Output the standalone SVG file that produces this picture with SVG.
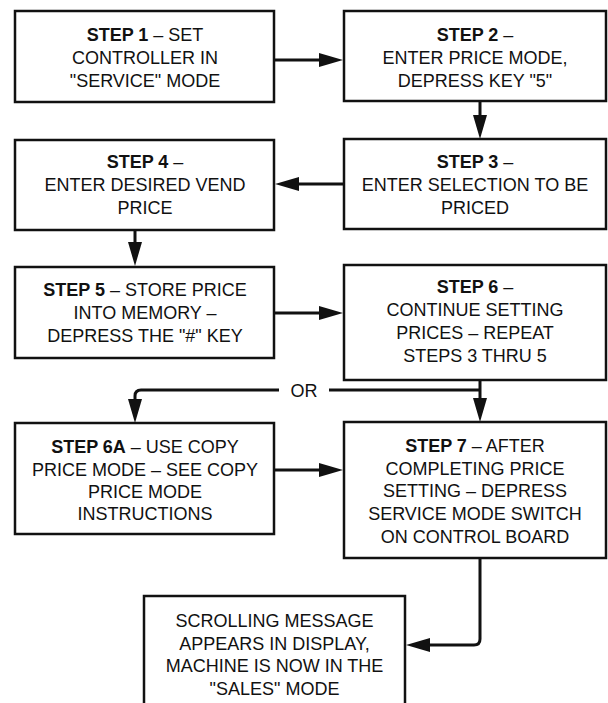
<svg xmlns="http://www.w3.org/2000/svg" width="608" height="703" viewBox="0 0 608 703">
<style>
.box{fill:#fff;stroke:#111;stroke-width:2.5}
.t{font-family:"Liberation Sans",Arial,Helvetica,sans-serif;font-size:18px;fill:#111;text-anchor:middle}
.b{font-weight:bold}
.c{fill:none;stroke:#111;stroke-width:3;stroke-linejoin:round}
</style>
<defs>
<marker id="ah" markerUnits="userSpaceOnUse" markerWidth="26" markerHeight="16" refX="4" refY="7" orient="auto" overflow="visible">
<path d="M0,0 L24,7 L0,14 Z" fill="#111"/>
</marker>
</defs>
<rect width="608" height="703" fill="#fff"/>
<g id="connectors">
<path class="c" d="M274,60 H323" marker-end="url(#ah)"/>
<path class="c" d="M480,101 V119" marker-end="url(#ah)"/>
<path class="c" d="M344,184 H295" marker-end="url(#ah)"/>
<path class="c" d="M135,229 V246" marker-end="url(#ah)"/>
<path class="c" d="M274,313 H323" marker-end="url(#ah)"/>
<path class="c" d="M480,380 V402" marker-end="url(#ah)"/>
<path class="c" d="M279,390 H141 Q135,390 135,396 V403" marker-end="url(#ah)"/>
<path class="c" d="M329,390 H480"/>
<text class="t" x="304" y="396.5">OR</text>
<path class="c" d="M274,470 H323" marker-end="url(#ah)"/>
<path class="c" d="M480,558 V639 Q480,645 474,645 H426" marker-end="url(#ah)"/>
</g>
<g id="step1">
<rect class="box" x="15" y="11" width="259" height="91"/>
<text class="t" x="145" y="40.5"><tspan class="b">STEP 1</tspan> – SET</text>
<text class="t" x="145" y="63.5">CONTROLLER IN</text>
<text class="t" x="145" y="86.5">"SERVICE" MODE</text>
</g>
<g id="step2">
<rect class="box" x="344" y="11" width="262" height="90"/>
<text class="t" x="475" y="40.5"><tspan class="b">STEP 2</tspan> –</text>
<text class="t" x="475" y="63.5">ENTER PRICE MODE,</text>
<text class="t" x="475" y="86.5">DEPRESS KEY "5"</text>
</g>
<g id="step3">
<rect class="box" x="344" y="139" width="262" height="90"/>
<text class="t" x="475" y="168"><tspan class="b">STEP 3</tspan> –</text>
<text class="t" x="475" y="191">ENTER SELECTION TO BE</text>
<text class="t" x="475" y="214">PRICED</text>
</g>
<g id="step4">
<rect class="box" x="15" y="140" width="259" height="90"/>
<text class="t" x="145" y="168"><tspan class="b">STEP 4</tspan> –</text>
<text class="t" x="145" y="191">ENTER DESIRED VEND</text>
<text class="t" x="145" y="214">PRICE</text>
</g>
<g id="step5">
<rect class="box" x="15" y="267" width="259" height="91"/>
<text class="t" x="145" y="296"><tspan class="b">STEP 5</tspan> – STORE PRICE</text>
<text class="t" x="145" y="319">INTO MEMORY –</text>
<text class="t" x="145" y="342">DEPRESS THE "#" KEY</text>
</g>
<g id="step6">
<rect class="box" x="344" y="265" width="262" height="115"/>
<text class="t" x="475" y="293"><tspan class="b">STEP 6</tspan> –</text>
<text class="t" x="475" y="316">CONTINUE SETTING</text>
<text class="t" x="475" y="339">PRICES – REPEAT</text>
<text class="t" x="475" y="362">STEPS 3 THRU 5</text>
</g>
<g id="step6a">
<rect class="box" x="15" y="423" width="259" height="111"/>
<text class="t" x="145" y="453"><tspan class="b">STEP 6A</tspan> – USE COPY</text>
<text class="t" x="145" y="476">PRICE MODE – SEE COPY</text>
<text class="t" x="145" y="498">PRICE MODE</text>
<text class="t" x="145" y="520">INSTRUCTIONS</text>
</g>
<g id="step7">
<rect class="box" x="344" y="422" width="262" height="136"/>
<text class="t" x="475" y="452"><tspan class="b">STEP 7</tspan> – AFTER</text>
<text class="t" x="475" y="475">COMPLETING PRICE</text>
<text class="t" x="475" y="497">SETTING – DEPRESS</text>
<text class="t" x="475" y="520">SERVICE MODE SWITCH</text>
<text class="t" x="475" y="543">ON CONTROL BOARD</text>
</g>
<g id="final">
<rect class="box" x="144" y="596" width="261" height="124"/>
<text class="t" x="274.5" y="627">SCROLLING MESSAGE</text>
<text class="t" x="274.5" y="649.5">APPEARS IN DISPLAY,</text>
<text class="t" x="274.5" y="672">MACHINE IS NOW IN THE</text>
<text class="t" x="274.5" y="694.5">"SALES" MODE</text>
</g>
</svg>
